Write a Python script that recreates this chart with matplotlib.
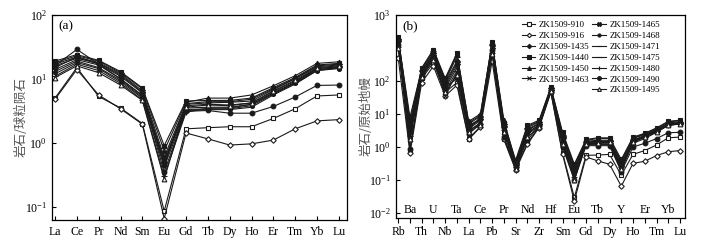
import matplotlib
matplotlib.use("Agg")
import matplotlib.pyplot as plt
from matplotlib.ticker import FixedLocator, FixedFormatter, NullLocator
from matplotlib.lines import Line2D
import numpy as np

plt.rcParams['font.family'] = ['Liberation Serif', 'Noto Sans CJK SC', 'DejaVu Sans']
plt.rcParams['mathtext.fontset'] = 'custom'
plt.rcParams['mathtext.rm'] = 'Liberation Serif'
plt.rcParams['mathtext.it'] = 'Liberation Serif'

# ---- data ----
samples = ["ZK1509-910", "ZK1509-916", "ZK1509-1435", "ZK1509-1440", "ZK1509-1450",
           "ZK1509-1463", "ZK1509-1465", "ZK1509-1468", "ZK1509-1471", "ZK1509-1475",
           "ZK1509-1480", "ZK1509-1490", "ZK1509-1495"]

ree = ["La", "Ce", "Pr", "Nd", "Sm", "Eu", "Gd", "Tb", "Dy", "Ho", "Er", "Tm", "Yb", "Lu"]
ree_vals = {
    "ZK1509-910":  [5.0, 15, 5.3, 3.5, 2.0, 0.085, 1.65, 1.72, 1.78, 1.78, 2.4, 3.4, 5.4, 5.6],
    "ZK1509-916":  [4.8, 14, 5.6, 3.4, 1.95, 0.065, 1.42, 1.15, 0.92, 0.96, 1.1, 1.65, 2.2, 2.3],
    "ZK1509-1435": [15, 22, 17, 11, 6.0, 0.45, 3.8, 4.0, 3.9, 4.2, 6.3, 9.2, 14.5, 15.5],
    "ZK1509-1440": [19, 24, 19.5, 13, 7.2, 0.9, 4.5, 4.6, 4.6, 5.0, 7.3, 10.5, 16.5, 17.5],
    "ZK1509-1450": [18, 23, 19, 12.5, 7.0, 0.75, 4.3, 5.0, 5.0, 5.6, 7.8, 11.2, 17.5, 18.5],
    "ZK1509-1463": [14, 20, 16.5, 10, 5.5, 0.55, 3.5, 3.6, 3.6, 4.0, 6.0, 8.8, 14, 15],
    "ZK1509-1465": [17, 22, 18, 12, 6.5, 0.6, 4.0, 4.2, 4.3, 4.5, 6.8, 10, 15.5, 16.5],
    "ZK1509-1468": [13, 19, 15, 9.5, 5.2, 0.5, 3.3, 3.4, 3.4, 3.8, 5.8, 8.5, 13.5, 14.5],
    "ZK1509-1471": [12, 18, 14.5, 9, 5.0, 0.42, 3.2, 3.3, 3.3, 3.6, 5.6, 8.3, 13.5, 15],
    "ZK1509-1475": [16, 21, 17.5, 11.5, 6.2, 0.48, 4.1, 4.4, 4.4, 4.8, 7.0, 10.2, 16, 17],
    "ZK1509-1480": [11, 17, 13.5, 8.5, 4.7, 0.3, 3.0, 3.5, 3.5, 4.0, 6.0, 8.8, 14.5, 15.5],
    "ZK1509-1490": [16, 29, 17, 10, 5.5, 0.35, 3.1, 3.2, 2.9, 2.9, 3.7, 5.2, 7.9, 8.0],
    "ZK1509-1495": [10.5, 16, 12.5, 8, 4.6, 0.27, 3.6, 3.9, 3.8, 4.2, 6.5, 9.5, 15, 16],
}

spider = ["Rb", "Ba", "Th", "U", "Nb", "Ta", "La", "Ce", "Pb", "Pr", "Sr", "Nd", "Zr",
          "Hf", "Sm", "Eu", "Gd", "Tb", "Dy", "Y", "Ho", "Er", "Tm", "Yb", "Lu"]
spider_vals = {
    "ZK1509-910":  [1500, 0.8, 120, 350, 45, 90, 1.8, 4.2, 800, 1.8, 0.22, 1.3, 4.2, 48, 0.65, 0.030, 0.56, 0.57, 0.6, 0.14, 0.6, 0.78, 1.15, 1.9, 2.0],
    "ZK1509-916":  [500, 0.65, 90, 280, 35, 75, 1.7, 4.0, 400, 1.7, 0.2, 1.2, 3.9, 45, 0.6, 0.023, 0.5, 0.38, 0.3, 0.065, 0.32, 0.37, 0.55, 0.72, 0.78],
    "ZK1509-1435": [1800, 3.0, 200, 700, 90, 400, 4.5, 7, 1200, 4.0, 0.3, 3.5, 5.0, 60, 2.0, 0.2, 1.4, 1.5, 1.5, 0.3, 1.6, 2.2, 3.2, 5.0, 5.5],
    "ZK1509-1440": [2200, 5.0, 250, 900, 120, 700, 5.5, 9, 1500, 5.5, 0.4, 4.5, 6.5, 65, 2.8, 0.3, 1.7, 1.9, 1.9, 0.42, 2.0, 2.6, 3.8, 6.0, 6.5],
    "ZK1509-1450": [2000, 8.0, 230, 850, 110, 650, 6.0, 10, 1400, 6.5, 0.35, 4.2, 6.0, 62, 2.5, 0.28, 1.6, 1.8, 1.8, 0.38, 1.9, 2.5, 3.6, 5.8, 6.2],
    "ZK1509-1463": [1300, 2.0, 160, 500, 35, 180, 3.0, 5.5, 1000, 3.0, 0.25, 2.5, 4.8, 55, 1.5, 0.13, 1.2, 1.2, 1.2, 0.2, 1.3, 1.8, 2.8, 4.5, 5.0],
    "ZK1509-1465": [1700, 4.0, 190, 650, 80, 350, 4.0, 7.5, 1100, 4.5, 0.3, 3.0, 5.5, 58, 2.0, 0.2, 1.4, 1.45, 1.45, 0.28, 1.6, 2.2, 3.2, 5.0, 5.4],
    "ZK1509-1468": [1600, 3.5, 180, 600, 70, 300, 3.8, 7, 1300, 4.2, 0.28, 3.2, 5.2, 57, 1.8, 0.18, 1.3, 1.35, 1.35, 0.25, 1.5, 2.1, 3.0, 4.8, 5.2],
    "ZK1509-1471": [1400, 2.5, 170, 550, 60, 250, 3.5, 6.5, 1000, 3.5, 0.27, 2.8, 4.6, 54, 1.6, 0.15, 1.25, 1.3, 1.3, 0.22, 1.4, 2.0, 2.9, 4.6, 5.0],
    "ZK1509-1475": [1900, 6.0, 220, 800, 100, 550, 5.0, 8.5, 1300, 5.0, 0.33, 3.8, 5.8, 60, 2.3, 0.25, 1.5, 1.6, 1.6, 0.35, 1.8, 2.4, 3.4, 5.4, 5.8],
    "ZK1509-1480": [1100, 2.2, 140, 450, 50, 200, 3.2, 5.0, 700, 3.2, 0.24, 2.4, 4.3, 52, 1.4, 0.12, 1.3, 1.4, 1.5, 0.25, 1.5, 2.1, 3.0, 4.8, 5.3],
    "ZK1509-1490": [1200, 0.9, 150, 500, 60, 120, 2.5, 5, 900, 2.0, 0.25, 1.6, 4.5, 55, 1.0, 0.1, 1.1, 1.1, 1.1, 0.18, 1.0, 1.3, 1.8, 2.7, 2.8],
    "ZK1509-1495": [1000, 1.8, 130, 420, 45, 150, 2.8, 4.8, 650, 2.8, 0.22, 2.0, 4.0, 50, 1.2, 0.1, 1.2, 1.3, 1.4, 0.22, 1.4, 2.0, 2.9, 4.6, 5.0],
}

# marker style per sample: (marker, filled, size)
styles = {
    "ZK1509-910":  ("s", False, 3.2),
    "ZK1509-916":  ("D", False, 2.8),
    "ZK1509-1435": ("D", True, 2.8),
    "ZK1509-1440": ("s", True, 3.2),
    "ZK1509-1450": ("^", True, 3.4),
    "ZK1509-1463": ("x", True, 3.2),
    "ZK1509-1465": ("X", True, 3.6),
    "ZK1509-1468": ("o", True, 2.8),
    "ZK1509-1471": ("_", True, 3.0),
    "ZK1509-1475": ("_", True, 5.0),
    "ZK1509-1480": ("+", True, 4.0),
    "ZK1509-1490": ("o", True, 3.4),
    "ZK1509-1495": ("^", False, 3.4),
}

fig = plt.figure(figsize=(7.09, 2.44), dpi=100)
ax1 = fig.add_axes([0.0733, 0.0984, 0.416, 0.840])
ax2 = fig.add_axes([0.558, 0.1066, 0.4077, 0.832])

lc = "#1a1a1a"
cjk = ["Noto Sans CJK SC"]


def draw(ax, vals):
    lines = []
    for s in samples:
        m, filled, ms = styles[s]
        ln, = ax.plot(np.arange(len(vals[s])), vals[s], color=lc, lw=0.8,
                      marker=m, ms=ms, mec=lc, mew=0.8,
                      mfc=lc if filled else "white", label=s)
        lines.append(ln)
    return lines


# ---- panel (a) ----
draw(ax1, ree_vals)
ax1.set_yscale("log")
ax1.set_ylim(10 ** -1.21, 100)
ax1.set_xlim(-0.14, 13.37)
ax1.yaxis.set_major_locator(FixedLocator([0.1, 1, 10, 100]))
ax1.yaxis.set_major_formatter(FixedFormatter([r"$10^{-1}$", r"$10^{0}$", r"$10^{1}$", r"$10^{2}$"]))
ax1.yaxis.set_minor_locator(NullLocator())
ax1.set_xticks(np.arange(len(ree)))
ax1.set_xticklabels(ree)
ax1.tick_params(axis="both", direction="in", labelsize=8.5, length=3, width=0.8)
ax1.tick_params(axis="x", pad=4)
ax1.set_ylabel("岩石/球粒陨石", family=cjk, fontsize=9, color="#555555")
ax1.yaxis.set_label_coords(-0.082, 0.5)
ax1.text(0.022, 0.975, "(a)", transform=ax1.transAxes, fontsize=9.5, va="top", ha="left")

# ---- panel (b) ----
lines_b = draw(ax2, spider_vals)
ax2.set_yscale("log")
ax2.set_ylim(10 ** -2.15, 1e4)
ax2.set_xlim(-0.22, 24.4)
ax2.yaxis.set_major_locator(FixedLocator([0.01, 0.1, 1, 10, 100, 1e4]))
ax2.yaxis.set_major_formatter(FixedFormatter([r"$10^{-2}$", r"$10^{-1}$", r"$10^{0}$",
                                              r"$10^{1}$", r"$10^{2}$", r"$10^{3}$"]))
ax2.yaxis.set_minor_locator(NullLocator())
ax2.set_xticks(np.arange(len(spider)))
ax2.set_xticklabels([e if i % 2 == 0 else "" for i, e in enumerate(spider)])
ax2.tick_params(axis="y", direction="in", labelsize=8.5, length=3, width=0.8)
ax2.tick_params(axis="x", direction="out", labelsize=8.5, length=3.5, width=0.8, pad=2)
for i, e in enumerate(spider):
    if i % 2 == 1:
        ax2.text(i, 0.012, e, transform=ax2.get_xaxis_transform(), ha="center", va="bottom", fontsize=8.5)
ax2.set_ylabel("岩石/原始地幔", family=cjk, fontsize=9, color="#555555")
ax2.yaxis.set_label_coords(-0.08, 0.5)
ax2.text(0.025, 0.975, "(b)", transform=ax2.transAxes, fontsize=9.5, va="top", ha="left")

# legend: 6 entries in the first column, 7 in the second
blank = Line2D([], [], color="none")
handles = lines_b[:6] + [blank] + lines_b[6:]
labels = samples[:6] + [""] + samples[6:]
ax2.legend(handles, labels, ncol=2, loc="upper right", bbox_to_anchor=(660 / 709, 1 - 21 / 244),
           bbox_transform=fig.transFigure, frameon=False, fontsize=6.5,
           borderpad=0, borderaxespad=0, labelspacing=0.28, handlelength=1.5,
           handletextpad=0.4, columnspacing=0.3, markerscale=0.8)

for ax in (ax1, ax2):
    for sp in ax.spines.values():
        sp.set_linewidth(0.9)

fig.savefig("out.png", dpi=100)
